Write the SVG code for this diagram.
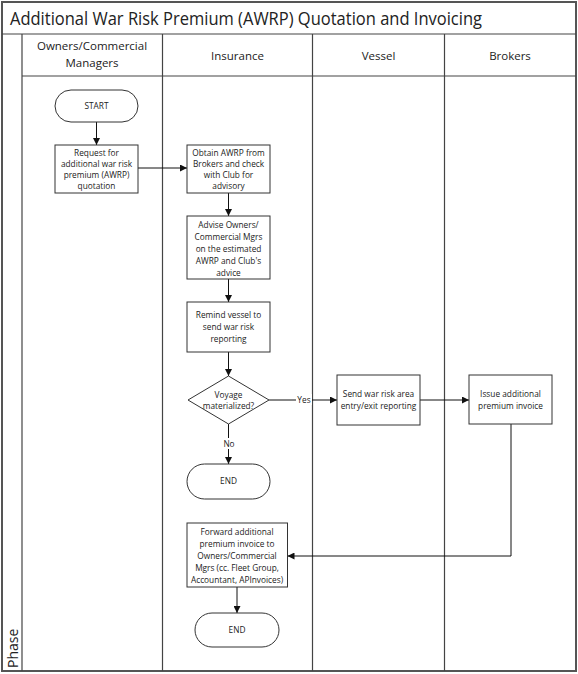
<svg xmlns="http://www.w3.org/2000/svg" width="578" height="674" viewBox="0 0 578 674">
<defs>
<marker id="ah" viewBox="0 0 10 10" refX="10" refY="5" markerWidth="7" markerHeight="7" markerUnits="userSpaceOnUse" orient="auto">
<path d="M0,0 L10,5 L0,10 z" fill="#111"/>
</marker>
<style>
.frame{fill:none;stroke:#444;stroke-width:1.2}
.outer{fill:none;stroke:#555;stroke-width:2}
.box{fill:#fff;stroke:#333;stroke-width:1}
.t{font-family:"Open Sans","Liberation Sans",sans-serif;font-size:8.3px;fill:#222;text-anchor:middle}
.h{font-family:"Open Sans","Liberation Sans",sans-serif;font-size:11.5px;fill:#222;text-anchor:middle}
.c{fill:none;stroke:#111;stroke-width:1;marker-end:url(#ah)}
</style>
</defs>
<rect width="578" height="674" fill="#fff"/>
<g id="pool">
<rect class="outer" x="2" y="2" width="574" height="669"/>
<line class="frame" x1="2" y1="34" x2="576" y2="34"/>
<line class="frame" x1="22" y1="76" x2="576" y2="76"/>
<line class="frame" x1="22" y1="34" x2="22" y2="671"/>
<line class="frame" x1="162.5" y1="34" x2="162.5" y2="671"/>
<line class="frame" x1="312.5" y1="34" x2="312.5" y2="671"/>
<line class="frame" x1="444.5" y1="34" x2="444.5" y2="671"/>
<text x="10" y="25" font-family="'Open Sans','Liberation Sans',sans-serif" font-size="19" fill="#222" textLength="472" lengthAdjust="spacingAndGlyphs">Additional War Risk Premium (AWRP) Quotation and Invoicing</text>
<text class="h" x="92" y="50">Owners/Commercial</text>
<text class="h" x="92" y="67">Managers</text>
<text class="h" x="237.5" y="60">Insurance</text>
<text class="h" x="378.5" y="60">Vessel</text>
<text class="h" x="510" y="60">Brokers</text>
<text transform="translate(18,668) rotate(-90)" font-family="'Open Sans','Liberation Sans',sans-serif" font-size="14" fill="#222">Phase</text>
</g>
<g id="connectors">
<line class="c" x1="96.5" y1="122" x2="96.5" y2="145"/>
<line class="c" x1="138" y1="168" x2="187" y2="168"/>
<line class="c" x1="228.5" y1="193" x2="228.5" y2="216"/>
<line class="c" x1="228.5" y1="279" x2="228.5" y2="302"/>
<line class="c" x1="228.5" y1="352" x2="228.5" y2="376"/>
<line class="c" x1="269" y1="400" x2="337" y2="400"/>
<line class="c" x1="228.5" y1="424" x2="228.5" y2="464"/>
<line class="c" x1="420" y1="400" x2="469" y2="400"/>
<polyline class="c" points="511,424 511,556 287.5,556"/>
<line class="c" x1="237" y1="587" x2="237" y2="613"/>
<rect x="296" y="394" width="16" height="11" fill="#fff"/>
<text class="t" x="304" y="403">Yes</text>
<rect x="221" y="438" width="16" height="11" fill="#fff"/>
<text class="t" x="229" y="447">No</text>
</g>
<g id="start">
<rect class="box" x="55" y="90" width="83" height="32" rx="16"/>
<text class="t" x="96.5" y="109">START</text>
</g>
<g id="request">
<rect class="box" x="55" y="145" width="83" height="48"/>
<text class="t" x="96.5" y="156">Request for</text>
<text class="t" x="96.5" y="167">additional war risk</text>
<text class="t" x="96.5" y="178">premium (AWRP)</text>
<text class="t" x="96.5" y="189">quotation</text>
</g>
<g id="obtain">
<rect class="box" x="187" y="145" width="83" height="48"/>
<text class="t" x="228.5" y="156">Obtain AWRP from</text>
<text class="t" x="228.5" y="167">Brokers and check</text>
<text class="t" x="228.5" y="178">with Club for</text>
<text class="t" x="228.5" y="189">advisory</text>
</g>
<g id="advise">
<rect class="box" x="187" y="216" width="83" height="63"/>
<text class="t" x="228.5" y="228">Advise Owners/</text>
<text class="t" x="228.5" y="240">Commercial Mgrs</text>
<text class="t" x="228.5" y="252">on the estimated</text>
<text class="t" x="228.5" y="264">AWRP and Club's</text>
<text class="t" x="228.5" y="276">advice</text>
</g>
<g id="remind">
<rect class="box" x="187" y="302" width="83" height="50"/>
<text class="t" x="228.5" y="318">Remind vessel to</text>
<text class="t" x="228.5" y="330">send war risk</text>
<text class="t" x="228.5" y="342">reporting</text>
</g>
<g id="decision">
<polygon class="box" points="228.5,376 269,400 228.5,424 188,400"/>
<text class="t" x="228.5" y="398">Voyage</text>
<text class="t" x="228.5" y="409">materialized?</text>
</g>
<g id="end1">
<rect class="box" x="187" y="464" width="83" height="35" rx="17.5"/>
<text class="t" x="228.5" y="484">END</text>
</g>
<g id="send">
<rect class="box" x="337" y="375" width="83" height="50"/>
<text class="t" x="378.5" y="397">Send war risk area</text>
<text class="t" x="378.5" y="409">entry/exit reporting</text>
</g>
<g id="issue">
<rect class="box" x="469" y="375" width="83" height="49"/>
<text class="t" x="510.5" y="397">Issue additional</text>
<text class="t" x="510.5" y="409">premium invoice</text>
</g>
<g id="forward">
<rect class="box" x="187" y="523" width="100.5" height="64"/>
<text class="t" x="237" y="535">Forward additional</text>
<text class="t" x="237" y="547">premium invoice to</text>
<text class="t" x="237" y="559">Owners/Commercial</text>
<text class="t" x="237" y="571">Mgrs (cc. Fleet Group,</text>
<text class="t" x="237" y="583">Accountant, APInvoices)</text>
</g>
<g id="end2">
<rect class="box" x="195" y="613" width="84" height="34" rx="17"/>
<text class="t" x="237" y="633">END</text>
</g>
</svg>
